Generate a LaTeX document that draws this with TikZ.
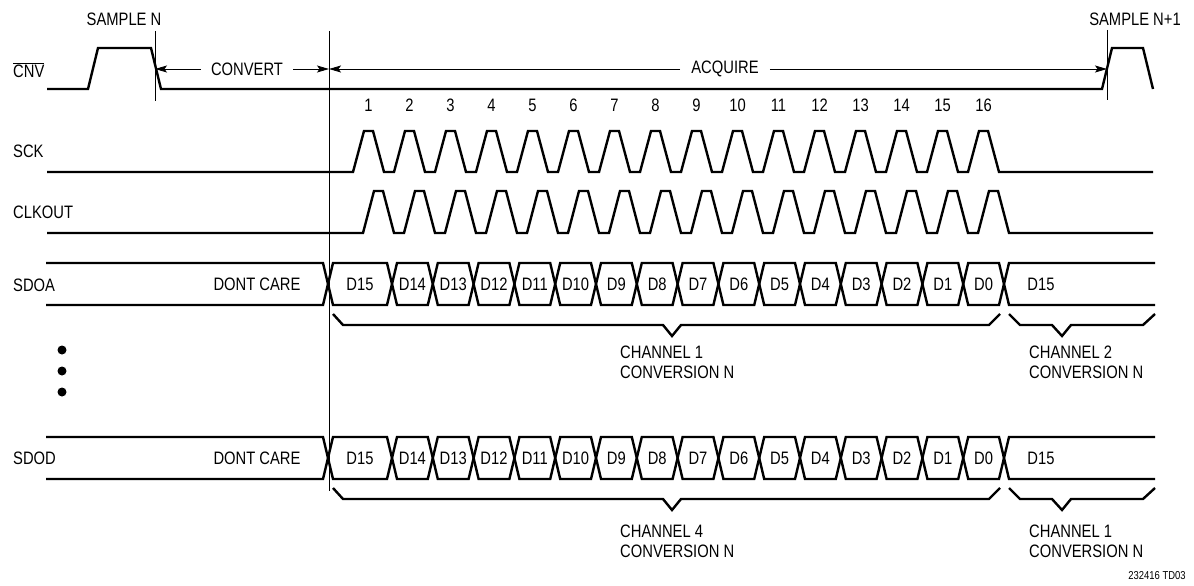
\documentclass[tikz,border=0pt]{standalone}
\usepackage{fontspec}
\setmainfont{Liberation Sans}[FakeStretch=0.82]
\usetikzlibrary{arrows.meta}

\begin{document}
\begin{tikzpicture}[x=1pt, y=-1pt]
    \tikzstyle{wave} = [line width=2.4pt, line join=miter]
    \tikzstyle{guide} = [line width=0.9pt]
    \tikzstyle{dimarrow} = [line width=0.9pt, -{Stealth[length=12pt, width=7pt, inset=2.5pt]}]
    \tikzstyle{txt} = [font=\fontsize{18}{20}\selectfont, inner sep=0pt]
    \tikzstyle{sig} = [txt, anchor=west]
    \tikzstyle{dot} = [circle, fill=black, inner sep=0pt, minimum size=9pt]
    \useasboundingbox (0,0) rectangle (1194,586);

    % signal names
    \node[sig] (cnv) at (13,70) {$\overline{\hbox{CNV}}$};
    \node[sig] (sck) at (13,151) {SCK};
    \node[sig] (clkout) at (13,212) {CLKOUT};
    \node[sig] (sdoa) at (13,285) {SDOA};
    \node[sig] (sdod) at (13,458) {SDOD};
    \node[dot] (d1) at (62,350) {};
    \node[dot] (d2) at (62,371) {};
    \node[dot] (d3) at (62,392) {};

    % sample markers and phases
    \draw[guide] (155,31) -- (155,101);
    \draw[guide] (329,31) -- (329,491);
    \draw[guide] (1107,30) -- (1107,100);
    \coordinate (cvtEnd) at (155,69);
    \coordinate (acqStart) at (329,69);
    \coordinate (acqEnd) at (1107,69);
    \node[txt] (smpN) at (124,19) {SAMPLE N};
    \node[txt] (smpN1) at (1135,19) {SAMPLE N+1};
    \node[txt, inner xsep=10pt] (convert) at (247,69) {CONVERT};
    \node[txt, inner xsep=11pt] (acquire) at (725,69) {ACQUIRE};
    \draw[dimarrow] (convert.west) -- (cvtEnd);
    \draw[dimarrow] (convert.east) -- (acqStart);
    \draw[dimarrow] (acquire.west) -- (acqStart);
    \draw[dimarrow] (acquire.east) -- (acqEnd);

    \draw[wave] (47,89) -- (88,89) -- (98,48) -- (151,48) -- (161,89) -- (1102,89)
        -- (1112,48) -- (1143,48) -- (1153,89);

    % clocks
    \foreach \k in {1,...,16}
        \node[txt] (n\k) at ({368.5+41*(\k-1)},105) {\k};
    \draw[wave] (47,172) -- (353,172)
        \foreach \k in {1,...,16} { -- ++(11,-41) -- ++(9,0) -- ++(11,41) -- ++(10,0) }
        -- (1153,172);
    \draw[wave] (47,233) -- (363,233)
        \foreach \k in {1,...,16} { -- ++(11,-42) -- ++(9,0) -- ++(11,42) -- ++(10,0) }
        -- (1153,233);

    % data buses
    \foreach \row/\yt in {A/263, D/437} {
        \pgfmathsetmacro\ym{\yt+21}
        \pgfmathsetmacro\yb{\yt+42}
        \draw[wave] (46,\yt) -- (323,\yt) -- (328,\ym) -- (323,\yb) -- (46,\yb);
        \node[txt] (dc\row) at (257,\ym) {DONT CARE};
        \foreach \k in {0,...,15} {
            \pgfmathsetmacro\xa{ifthenelse(\k==0,328,392+40.8*(\k-1))}
            \pgfmathsetmacro\xb{392+40.8*\k}
            \pgfmathtruncatemacro\bit{15-\k}
            \draw[wave] (\xa,\ym) -- (\xa+5,\yt) -- (\xb-5,\yt) -- (\xb,\ym)
                -- (\xb-5,\yb) -- (\xa+5,\yb) -- cycle;
            \node[txt] (b\row\k) at ({(\xa+\xb)/2},\ym) {D\bit};
        }
        \draw[wave] (1155,\yt) -- (1009,\yt) -- (1004,\ym) -- (1009,\yb) -- (1155,\yb);
        \node[txt] (nx\row) at (1041,\ym) {D15};
        % groups
        \draw[wave] (333,\yb+9) -- (343,\yb+20) -- (663,\yb+20) -- (672,\yb+31)
            -- (681,\yb+20) -- (989,\yb+20) -- (1000,\yb+9);
        \draw[wave] (1009,\yb+9) -- (1020,\yb+20) -- (1052,\yb+20) -- (1062,\yb+31)
            -- (1071,\yb+20) -- (1143,\yb+20) -- (1155,\yb+9);
    }
    \node[txt, align=left, anchor=north west] (grpA1) at (620,345.5) {CHANNEL 1\\CONVERSION N};
    \node[txt, align=left, anchor=north west] (grpA2) at (1029,345.5) {CHANNEL 2\\CONVERSION N};
    \node[txt, align=left, anchor=north west] (grpD1) at (620,524.5) {CHANNEL 4\\CONVERSION N};
    \node[txt, align=left, anchor=north west] (grpD2) at (1029,524.5) {CHANNEL 1\\CONVERSION N};

    \node[font=\fontsize{11.5}{13}\selectfont, inner sep=0pt] (tag) at (1157,576) {232416 TD03};
\end{tikzpicture}
\end{document}
